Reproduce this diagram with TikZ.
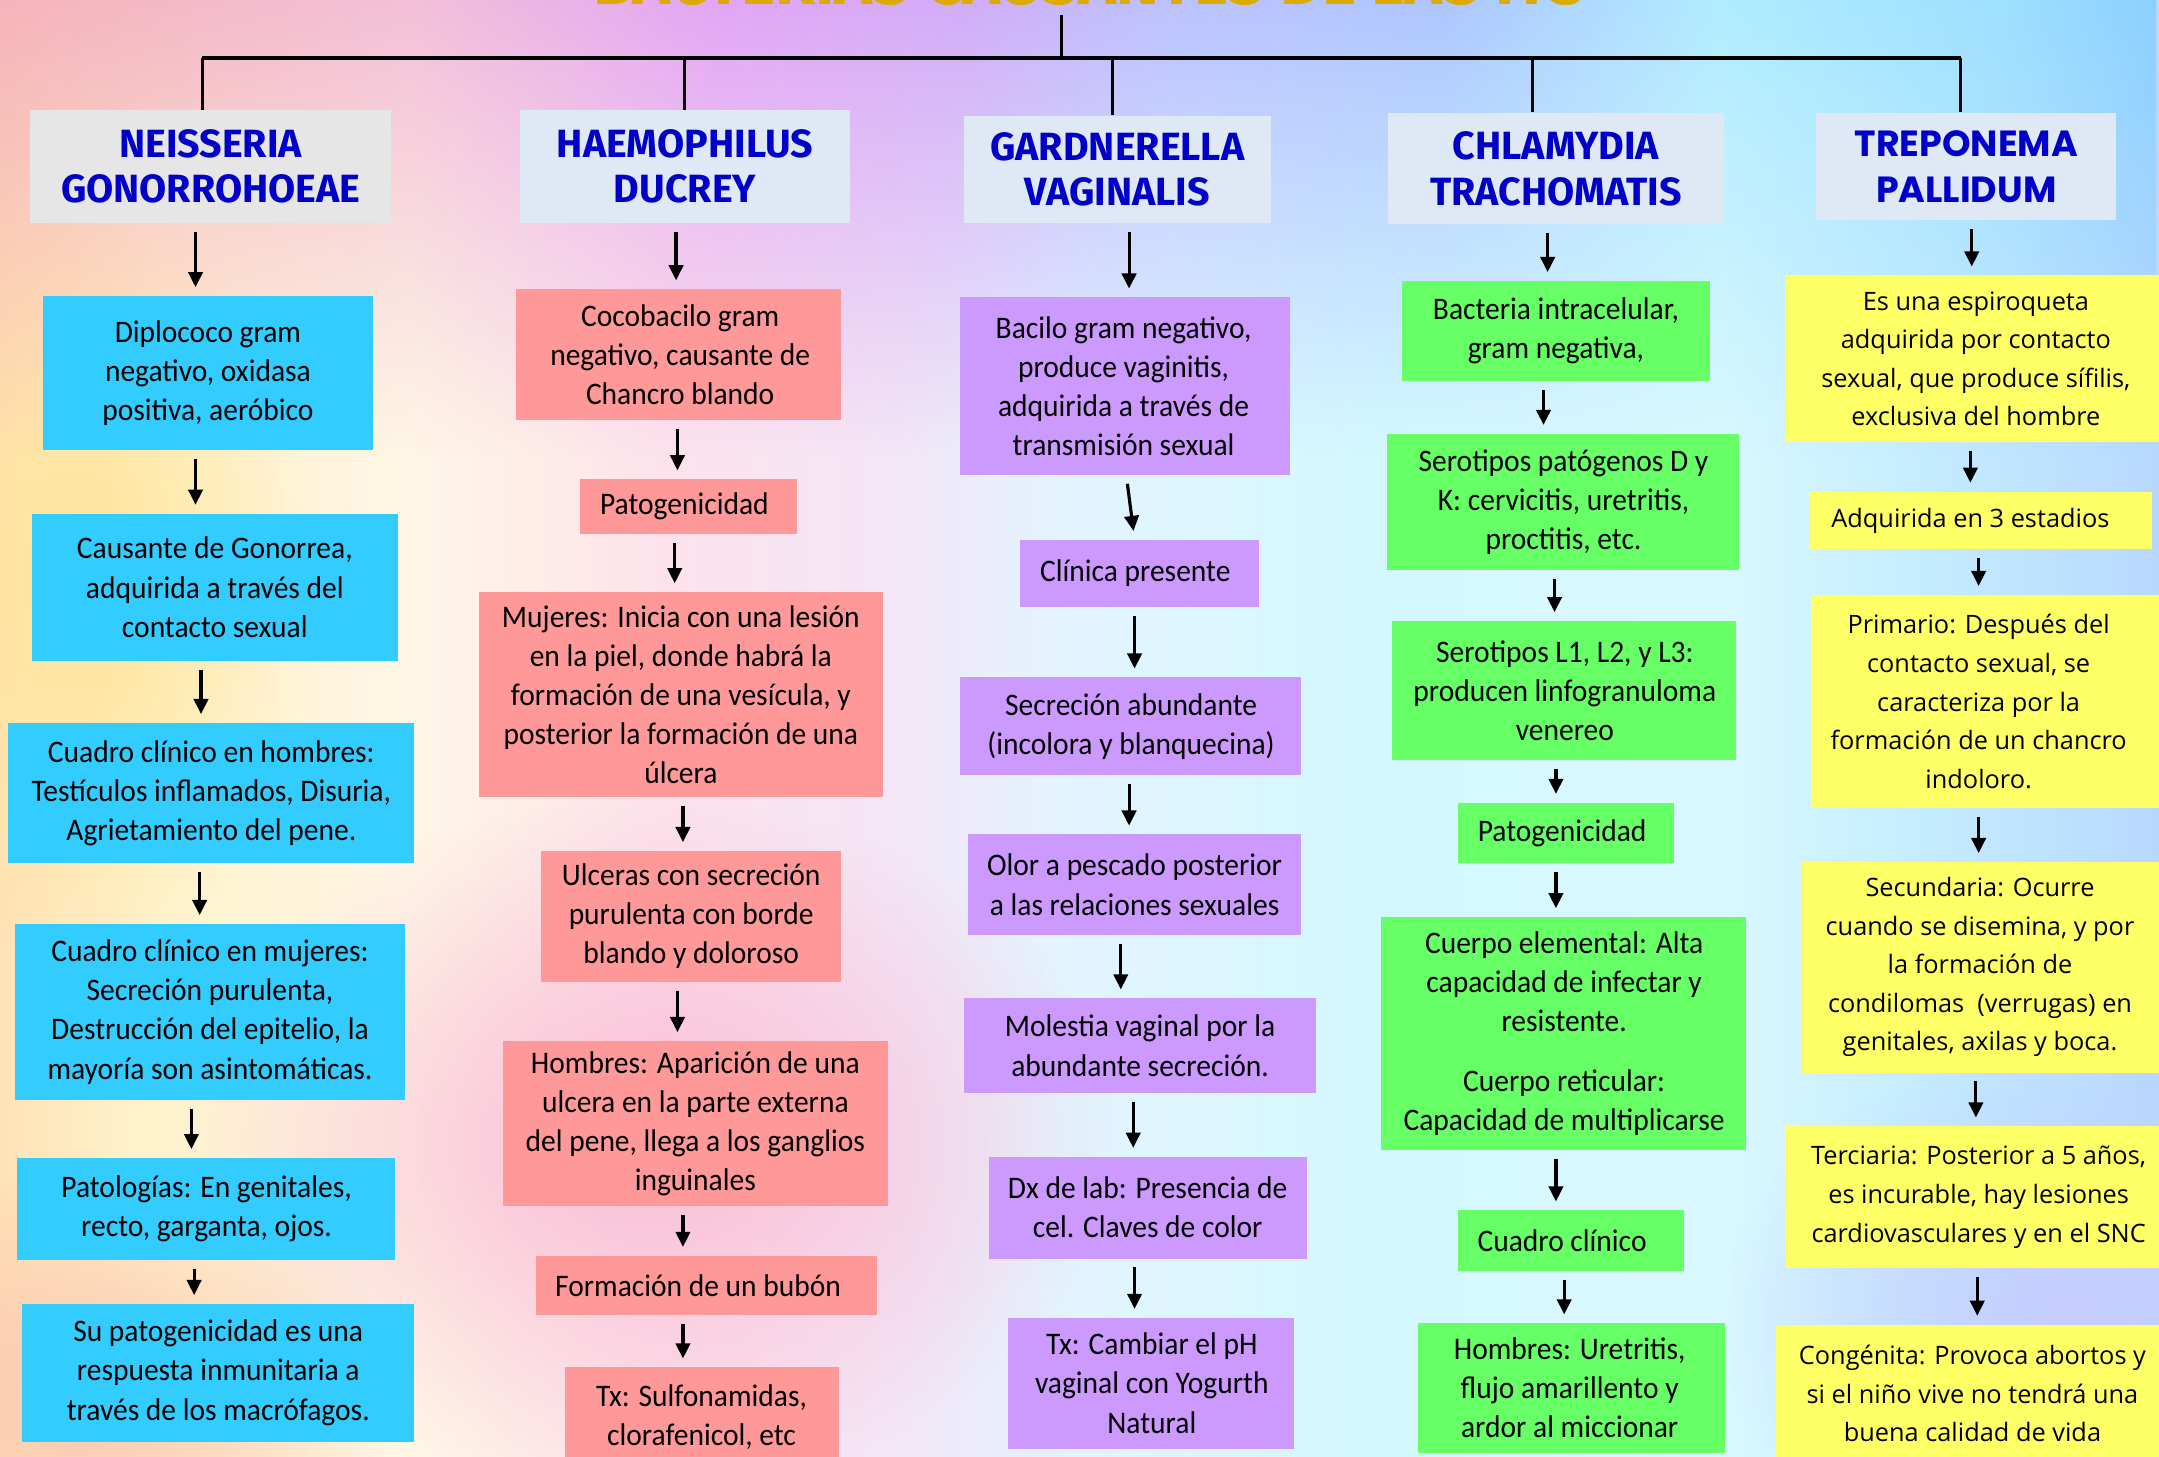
\documentclass[tikz,border=0pt]{standalone}
\usepackage{fontspec}
\setmainfont{Carlito}[FakeStretch=0.94]
\newfontfamily\headfont{Fira Sans}
\newfontfamily\tpfont{Poppins}
\newfontfamily\osfont{Open Sans}
\usetikzlibrary{arrows.meta,fadings}

\definecolor{cblue}{HTML}{33CCFF}
\definecolor{cpink}{HTML}{FF9999}
\definecolor{cpurp}{HTML}{CC99FF}
\definecolor{cgreen}{HTML}{66FF66}
\definecolor{cyel}{HTML}{FFFF66}
\definecolor{hgray}{HTML}{E6E6E6}
\definecolor{hblue}{HTML}{DEE9F5}
\definecolor{hdtext}{HTML}{0000C8}
\definecolor{gold}{HTML}{DDAA00}
% background colours
\definecolor{bg0}{HTML}{FFE2B6}
\definecolor{bg1}{HTML}{FFF3CC}
\definecolor{bg2}{HTML}{FFF6E6}
\definecolor{bg3}{HTML}{FDE2EC}
\definecolor{bg4}{HTML}{F3E6F6}
\definecolor{bg5}{HTML}{E2F4FF}
\definecolor{bg6}{HTML}{D4F8FF}
\definecolor{bg7}{HTML}{DAF8FF}
\definecolor{bg8}{HTML}{C4ECFF}
\definecolor{bg9}{HTML}{B8D8FF}
\definecolor{tp0}{HTML}{F6B4BA}
\definecolor{tp1}{HTML}{F3C0D8}
\definecolor{tp2}{HTML}{E2A6F6}
\definecolor{tp3}{HTML}{D2ACF8}
\definecolor{tp4}{HTML}{BCC2FF}
\definecolor{tp5}{HTML}{AEC6FF}
\definecolor{tp6}{HTML}{B0ECFF}
\definecolor{tp7}{HTML}{A0E0FF}
\definecolor{tp8}{HTML}{8CD0FF}
\definecolor{blpink}{HTML}{F9BED6}
\definecolor{blpeach}{HTML}{FBC6B0}
\definecolor{bllav}{HTML}{C6CCFF}
\definecolor{blyel}{HTML}{FFE49A}

\pgfdeclarehorizontalshading{bgshade}{100bp}{color(0bp)=(bg0); color(25bp)=(bg0);
  color(28.51bp)=(bg1); color(34.57bp)=(bg2); color(40.31bp)=(bg3); color(45.73bp)=(bg4);
  color(49.87bp)=(bg5); color(56.89bp)=(bg6); color(64.86bp)=(bg7); color(69.64bp)=(bg8);
  color(75bp)=(bg9); color(100bp)=(bg9)}
\pgfdeclarehorizontalshading{topshade}{100bp}{color(0bp)=(tp0); color(25bp)=(tp0);
  color(34.57bp)=(tp1); color(41.58bp)=(tp2); color(47.32bp)=(tp3); color(52.10bp)=(tp4);
  color(58.48bp)=(tp5); color(64.86bp)=(tp6); color(71.24bp)=(tp7);
  color(75bp)=(tp8); color(100bp)=(tp8)}

\tikzfading[name=fadedown, top color=transparent!0, bottom color=transparent!100]
\tikzfading[name=blobfade, inner color=transparent!0, outer color=transparent!100]

\tikzset{
  txt/.style={inner sep=0pt, align=center, text=black, font=\fontsize{11.4}{14.2}\selectfont},
  tptxt/.style={inner sep=0pt, align=center, text=black, font=\osfont\fontsize{9.2}{14}\selectfont},
  hd/.style={inner sep=0pt, align=center, text=hdtext, font=\headfont\bfseries\fontsize{14.3}{16.5}\selectfont},
  tphd/.style={inner sep=0pt, align=center, text=hdtext, font=\tpfont\bfseries\fontsize{13.2}{16.5}\selectfont},
  arr/.style={line width=1.15pt, -{Triangle[length=5.5pt,width=5.2pt]}, shorten <=3pt, shorten >=3pt},
  tree/.style={line width=1pt},
  busline/.style={line width=1.4pt},
}

% name, x1, y1, x2, y2, fill, style, text-x, text
\newcommand\bx[9]{%
  \fill[#6] (#2,#3) rectangle (#4,#5);
  \node[#7, minimum height={(#5-#3)*0.5pt}] (#1) at (#8,{(#3+#5)/2}) {#9};
}
\newcommand\ar[3]{%
  \coordinate (ax) at (#3,0);
  \draw[arr] (#1.south -| ax) -- (#2.north -| ax);
}
\newcommand\arr[4]{%
  \coordinate (ax) at (#3,0);
  \coordinate (bx) at (#4,0);
  \draw[arr] (#1.south -| ax) -- (#2.north -| bx);
}

\begin{document}
\begin{tikzpicture}[x=0.5pt,y=-0.5pt]
\useasboundingbox (0,0) rectangle (1568,1058);
\clip (0,0) rectangle (1568,1058);
% ---------- background ----------
\shade[shading=bgshade] (0,0) rectangle (1568,1058);
\fill[blyel, path fading=blobfade] (60,420) ellipse [x radius=170, y radius=280];
\fill[blpink, path fading=blobfade] (470,830) ellipse [x radius=340, y radius=250];
\fill[blpeach, path fading=blobfade] (70,1010) ellipse [x radius=220, y radius=160];
\fill[bllav, path fading=blobfade] (1510,960) ellipse [x radius=260, y radius=200];
\shade[shading=topshade, path fading=fadedown] (0,0) rectangle (1568,330);

% ---------- title ----------
\node[anchor=base, text=gold, font=\headfont\bfseries\fontsize{23.5}{24}\selectfont] (title) at (791,3) {BACTERIAS CAUSANTES DE LAS ITS};

% ---------- column 1 ----------
\bx{n0}{22}{80}{284}{162}{hgray}{hd}{153}{NEISSERIA\\GONORROHOEAE}
\bx{n1}{31}{215}{271}{327}{cblue}{txt}{151}{Diplococo gram\\negativo, oxidasa\\positiva, aeróbico}
\bx{n2}{23}{373}{289}{480}{cblue}{txt}{156}{Causante de Gonorrea,\\adquirida a través del\\contacto sexual}
\bx{n3}{6}{525}{301}{627}{cblue}{txt}{153.5}{Cuadro clínico en hombres:\\Testículos inflamados, Disuria,\\Agrietamiento del pene.}
\bx{n4}{11}{671}{294}{799}{cblue}{txt}{152.5}{Cuadro clínico en mujeres:\\Secreción purulenta,\\Destrucción del epitelio, la\\mayoría son asintomáticas.}
\bx{n5}{12}{841}{287}{915}{cblue}{txt}{150}{Patologías: En genitales,\\recto, garganta, ojos.}
\bx{n6}{16}{947}{301}{1047}{cblue}{txt}{158.5}{Su patogenicidad es una\\respuesta inmunitaria a\\través de los macrófagos.}

% ---------- column 2 ----------
\bx{h0}{378}{80}{617}{162}{hblue}{hd}{497.5}{HAEMOPHILUS\\DUCREY}
\bx{h1}{375}{210}{611}{305}{cpink}{txt}{494}{Cocobacilo gram\\negativo, causante de\\Chancro blando}
\bx{h2}{421}{348}{579}{388}{cpink}{txt}{497}{Patogenicidad}
\bx{h3}{348}{430}{641}{579}{cpink}{txt}{494.5}{Mujeres: Inicia con una lesión\\en la piel, donde habrá la\\formación de una vesícula, y\\posterior la formación de una\\úlcera}
\bx{h4}{393}{618}{611}{713}{cpink}{txt}{502}{Ulceras con secreción\\purulenta con borde\\blando y doloroso}
\bx{h5}{365}{756}{645}{876}{cpink}{txt}{505}{Hombres: Aparición de una\\ulcera en la parte externa\\del pene, llega a los ganglios\\inguinales}
\bx{h6}{389}{912}{637}{955}{cpink}{txt}{507}{Formación de un bubón}
\bx{h7}{410}{993}{609}{1065}{cpink}{txt}{509.5}{Tx: Sulfonamidas,\\clorafenicol, etc}

% ---------- column 3 ----------
\bx{g0}{700}{84}{923}{162}{hblue}{hd}{811.5}{GARDNERELLA\\VAGINALIS}
\bx{g1}{697}{216}{937}{345}{cpurp}{txt}{816}{Bacilo gram negativo,\\produce vaginitis,\\adquirida a través de\\transmisión sexual}
\bx{g2}{741}{392}{914}{441}{cpurp}{txt}{824.5}{Clínica presente}
\bx{g3}{697}{492}{945}{563}{cpurp}{txt}{821.5}{Secreción abundante\\(incolora y blanquecina)}
\bx{g4}{703}{606}{945}{679}{cpurp}{txt}{824}{Olor a pescado posterior\\a las relaciones sexuales}
\bx{g5}{700}{725}{956}{794}{cpurp}{txt}{828}{Molestia vaginal por la\\abundante secreción.}
\bx{g6}{718}{840}{949}{914}{cpurp}{txt}{833.5}{Dx de lab: Presencia de\\cel. Claves de color}
\bx{g7}{732}{957}{940}{1052}{cpurp}{txt}{836.5}{Tx: Cambiar el pH\\vaginal con Yogurth\\Natural}

% ---------- column 4 ----------
\bx{c0}{1008}{82}{1252}{163}{hblue}{hd}{1130}{CHLAMYDIA\\TRACHOMATIS}
\bx{c1}{1018}{204}{1242}{277}{cgreen}{txt}{1130}{Bacteria intracelular,\\gram negativa,}
\bx{c2}{1007}{315}{1263}{414}{cgreen}{txt}{1135.5}{Serotipos patógenos D y\\K: cervicitis, uretritis,\\proctitis, etc.}
\bx{c3}{1011}{451}{1261}{552}{cgreen}{txt}{1136.5}{Serotipos L1, L2, y L3:\\producen linfogranuloma\\venereo}
\bx{c4}{1059}{583}{1216}{627}{cgreen}{txt}{1134.5}{Patogenicidad}
\bx{c5}{1003}{666}{1268}{835}{cgreen}{txt}{1136}{Cuerpo elemental: Alta\\capacidad de infectar y\\resistente.\\[7.5pt]Cuerpo reticular:\\Capacidad de multiplicarse}
\bx{c6}{1059}{879}{1223}{923}{cgreen}{txt}{1134.5}{Cuadro clínico}
\bx{c7}{1030}{961}{1253}{1055}{cgreen}{txt}{1140}{Hombres: Uretritis,\\flujo amarillento y\\ardor al miccionar}

% ---------- column 5 ----------
\bx{t0}{1319}{82}{1537}{160}{hblue}{tphd}{1428}{TREPONEMA\\PALLIDUM}
\bx{t1}{1296}{200}{1575}{321}{cyel}{tptxt}{1435}{Es una espiroqueta\\adquirida por contacto\\sexual, que produce sífilis,\\exclusiva del hombre}
\bx{t2}{1314}{357}{1563}{399}{cyel}{tptxt}{1431}{Adquirida en 3 estadios}
\bx{t3}{1315}{432}{1575}{587}{cyel}{tptxt}{1437}{Primario: Después del\\contacto sexual, se\\caracteriza por la\\formación de un chancro\\indoloro.}
\bx{t4}{1309}{626}{1575}{779}{cyel}{tptxt}{1438}{Secundaria: Ocurre\\cuando se disemina, y por\\la formación de\\condilomas~ (verrugas) en\\genitales, axilas y boca.}
\bx{t5}{1296}{818}{1575}{921}{cyel}{tptxt}{1437}{Terciaria: Posterior a 5 años,\\es incurable, hay lesiones\\cardiovasculares y en el SNC}
\bx{t6}{1290}{962}{1575}{1062}{cyel}{tptxt}{1432.5}{Congénita: Provoca abortos y\\si el niño vive no tendrá una\\buena calidad de vida}

% ---------- tree connectors ----------
\coordinate (b0) at (771,42);
\coordinate (b1) at (147,42);
\coordinate (b2) at (497,42);
\coordinate (b3) at (808,42);
\coordinate (b4) at (1113,42);
\coordinate (b5) at (1424,42);
\draw[tree] (title.south -| b0) -- (b0);
\draw[busline] (b1) -- (b5);
\draw[tree] (b1) -- (n0.north -| b1);
\draw[tree] (b2) -- (h0.north -| b2);
\draw[tree] (b3) -- (g0.north -| b3);
\draw[tree] (b4) -- (c0.north -| b4);
\draw[tree] (b5) -- (t0.north -| b5);

% ---------- arrows ----------
\ar{n0}{n1}{142}
\ar{n1}{n2}{142}
\ar{n2}{n3}{146}
\ar{n3}{n4}{145}
\ar{n4}{n5}{139}
\ar{n5}{n6}{141}

\ar{h0}{h1}{491}
\ar{h1}{h2}{492}
\ar{h2}{h3}{490}
\ar{h3}{h4}{496}
\ar{h4}{h5}{492}
\ar{h5}{h6}{496}
\ar{h6}{h7}{496}

\ar{g0}{g1}{820}
\arr{g1}{g2}{818}{824}
\ar{g2}{g3}{824}
\ar{g3}{g4}{820}
\ar{g4}{g5}{814}
\ar{g5}{g6}{823}
\ar{g6}{g7}{824}

\ar{c0}{c1}{1124}
\ar{c1}{c2}{1121}
\ar{c2}{c3}{1129}
\ar{c3}{c4}{1130}
\ar{c4}{c5}{1130}
\ar{c5}{c6}{1130}
\ar{c6}{c7}{1136}

\ar{t0}{t1}{1432}
\ar{t1}{t2}{1431}
\ar{t2}{t3}{1437}
\ar{t3}{t4}{1437}
\ar{t4}{t5}{1435}
\ar{t5}{t6}{1436}
\end{tikzpicture}
\end{document}
